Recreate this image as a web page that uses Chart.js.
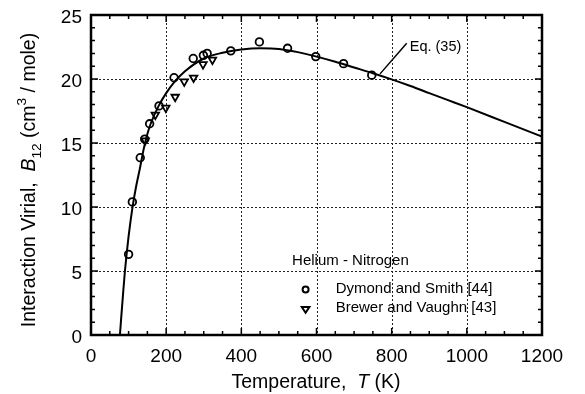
<!DOCTYPE html>
<html>
<head>
<meta charset="utf-8">
<script src="https://cdn.jsdelivr.net/npm/chart.js@4/dist/chart.umd.min.js"></script>
<style>
  html, body { margin: 0; padding: 0; background: #fff; }
  #wrap { width: 585px; height: 394px; }
</style>
</head>
<body>
<div id="wrap"><canvas id="virialChart" width="585" height="394"></canvas></div>
<script>
// Eq. (35) curve
const curveT = [77, 80, 85, 90, 100, 110, 120, 130, 140, 150, 160, 180, 200, 220, 250, 300, 350, 400, 450, 500, 550, 600, 650, 700, 750, 800, 850, 900, 950, 1000, 1100, 1200];
const curveB = [0, 1.2, 3.1, 4.9, 7.7, 9.9, 11.6, 13.0, 14.5, 15.7, 16.6, 17.9, 18.9, 19.7, 20.6, 21.6, 22.05, 22.3, 22.4, 22.35, 22.1, 21.75, 21.35, 20.9, 20.45, 19.97, 19.45, 18.9, 18.35, 17.8, 16.65, 15.5];

// Dymond and Smith [44]
const dymondT = [100, 110, 131, 143, 156, 181, 221, 272, 299, 309, 372, 448, 523, 598, 672, 747];
const dymondB = [6.3, 10.4, 13.85, 15.3, 16.5, 17.9, 20.1, 21.6, 21.85, 22.0, 22.2, 22.9, 22.4, 21.75, 21.2, 20.3];

// Brewer and Vaughn [43]
const brewerT = [144, 171, 199, 224, 248, 273, 298, 323];
const brewerB = [15.2, 17.2, 17.75, 18.6, 19.8, 20.1, 21.15, 21.5];

const xTicks = [0, 200, 400, 600, 800, 1000, 1200];
const yTicks = [0, 5, 10, 15, 20, 25];

const FONT = "'Liberation Sans', Arial, Helvetica, sans-serif";

function toPoints(xs, ys) {
  return xs.map((x, i) => ({ x: x, y: ys[i] }));
}

function drawCircle(ctx, x, y, r) {
  ctx.beginPath();
  ctx.arc(x, y, r, 0, Math.PI * 2);
  ctx.fillStyle = "#fff";
  ctx.fill();
  ctx.stroke();
}

function drawDownTriangle(ctx, x, y, r) {
  ctx.beginPath();
  ctx.moveTo(x - r, y - r * 0.6);
  ctx.lineTo(x + r, y - r * 0.6);
  ctx.lineTo(x, y + r * 0.9);
  ctx.closePath();
  ctx.fillStyle = "#fff";
  ctx.fill();
  ctx.stroke();
}

// draw a row of text segments (normal / italic / sub / sup), starting at x
function drawRich(ctx, parts, x, y, size) {
  let cx = x;
  parts.forEach((p) => {
    const fs = p.sub || p.sup ? size * 0.7 : size;
    ctx.font = (p.italic ? "italic " : "") + fs + "px " + FONT;
    const dy = p.sub ? size * 0.3 : p.sup ? -size * 0.45 : 0;
    ctx.fillText(p.text, cx, y + dy);
    cx += ctx.measureText(p.text).width;
  });
  return cx - x;
}

function richWidth(ctx, parts, size) {
  let w = 0;
  parts.forEach((p) => {
    const fs = p.sub || p.sup ? size * 0.7 : size;
    ctx.font = (p.italic ? "italic " : "") + fs + "px " + FONT;
    w += ctx.measureText(p.text).width;
  });
  return w;
}

const frameGrid = {
  id: "frameGrid",
  beforeDatasetsDraw(chart) {
    const { ctx, chartArea: a, scales: { x, y } } = chart;
    ctx.save();
    ctx.strokeStyle = "#222";
    ctx.lineWidth = 1;
    ctx.setLineDash([2, 2]);
    xTicks.slice(1, -1).forEach((v) => {
      const px = Math.round(x.getPixelForValue(v)) + 0.5;
      ctx.beginPath();
      ctx.moveTo(px, a.top);
      ctx.lineTo(px, a.bottom);
      ctx.stroke();
    });
    yTicks.slice(1, -1).forEach((v) => {
      const py = Math.round(y.getPixelForValue(v)) + 0.5;
      ctx.beginPath();
      ctx.moveTo(a.left, py);
      ctx.lineTo(a.right, py);
      ctx.stroke();
    });
    ctx.restore();
  },
  afterDatasetsDraw(chart) {
    const { ctx, chartArea: a, scales: { x, y } } = chart;
    ctx.save();
    ctx.strokeStyle = "#000";
    // inward ticks on all four sides
    ctx.lineWidth = 1.5;
    for (let v = 0; v <= 1200; v += 50) {
      const px = x.getPixelForValue(v);
      const len = v % 200 === 0 ? 7 : 4;
      ctx.beginPath();
      ctx.moveTo(px, a.bottom);
      ctx.lineTo(px, a.bottom - len);
      ctx.moveTo(px, a.top);
      ctx.lineTo(px, a.top + len);
      ctx.stroke();
    }
    for (let v = 0; v <= 25; v += 1) {
      const py = y.getPixelForValue(v);
      const len = v % 5 === 0 ? 7 : 4;
      ctx.beginPath();
      ctx.moveTo(a.left, py);
      ctx.lineTo(a.left + len, py);
      ctx.moveTo(a.right, py);
      ctx.lineTo(a.right - len, py);
      ctx.stroke();
    }
    ctx.lineWidth = 2.5;
    ctx.strokeRect(a.left, a.top, a.right - a.left, a.bottom - a.top);

    // Eq. (35) label with leader line
    ctx.lineWidth = 1.5;
    ctx.beginPath();
    ctx.moveTo(x.getPixelForValue(840), y.getPixelForValue(22.8));
    ctx.lineTo(x.getPixelForValue(769), y.getPixelForValue(20.4));
    ctx.stroke();
    ctx.fillStyle = "#000";
    ctx.font = "14.5px " + FONT;
    ctx.textBaseline = "middle";
    ctx.textAlign = "left";
    ctx.fillText("Eq. (35)", x.getPixelForValue(848), y.getPixelForValue(22.5));

    // legend
    ctx.font = "15px " + FONT;
    ctx.fillText("Helium - Nitrogen", x.getPixelForValue(535), y.getPixelForValue(5.8));
    ctx.fillText("Dymond and Smith [44]", x.getPixelForValue(651), y.getPixelForValue(3.6));
    ctx.fillText("Brewer and Vaughn [43]", x.getPixelForValue(651), y.getPixelForValue(2.1));
    ctx.lineWidth = 2;
    drawCircle(ctx, x.getPixelForValue(571), y.getPixelForValue(3.55), 3);
    drawDownTriangle(ctx, x.getPixelForValue(571), y.getPixelForValue(2.0), 3.8);

    // axis titles
    ctx.fillStyle = "#000";
    ctx.textBaseline = "alphabetic";
    const xt = [
      { text: "Temperature,  " },
      { text: "T", italic: true },
      { text: " (K)" },
    ];
    const xw = richWidth(ctx, xt, 19.5);
    drawRich(ctx, xt, 316 - xw / 2, 388, 19.5);

    const yt = [
      { text: "Interaction Virial,  " },
      { text: "B", italic: true },
      { text: "12", sub: true },
      { text: " (cm" },
      { text: "3", sup: true },
      { text: " / mole)" },
    ];
    const yw = richWidth(ctx, yt, 19.5);
    ctx.translate(35, 180);
    ctx.rotate(-Math.PI / 2);
    drawRich(ctx, yt, -yw / 2, 0, 19.5);
    ctx.restore();
  },
};

const ctx = document.getElementById("virialChart").getContext("2d");
new Chart(ctx, {
  type: "scatter",
  data: {
    datasets: [
      {
        label: "Eq. (35)",
        data: toPoints(curveT, curveB),
        showLine: true,
        borderColor: "#000",
        borderWidth: 2,
        pointRadius: 0,
        cubicInterpolationMode: "monotone",
      },
      {
        label: "Dymond and Smith [44]",
        data: toPoints(dymondT, dymondB),
        pointStyle: "circle",
        pointRadius: 3.8,
        borderColor: "#000",
        backgroundColor: "rgba(255,255,255,0)",
        borderWidth: 1.8,
      },
      {
        label: "Brewer and Vaughn [43]",
        data: toPoints(brewerT, brewerB),
        pointStyle: "triangle",
        rotation: 180,
        pointRadius: 4.3,
        borderColor: "#000",
        backgroundColor: "rgba(255,255,255,0)",
        borderWidth: 1.8,
      },
    ],
  },
  options: {
    responsive: false,
    animation: false,
    layout: { padding: { top: 15, right: 43, left: 0, bottom: 0 } },
    plugins: {
      legend: { display: false },
      tooltip: { enabled: false },
    },
    scales: {
      x: {
        type: "linear",
        min: 0,
        max: 1200,
        afterFit: (s) => {
          s.height = 59;
          s.paddingLeft = 0;
          s.paddingRight = 0;
        },
        afterBuildTicks: (s) => { s.ticks = xTicks.map((v) => ({ value: v })); },
        ticks: {
          color: "#000",
          padding: 10,
          font: { family: FONT, size: 19 },
          callback: (v) => String(v),
        },
        grid: { display: false, drawTicks: false },
        border: { display: false },
      },
      y: {
        type: "linear",
        min: 0,
        max: 25,
        afterFit: (s) => {
          s.width = 91;
          s.paddingTop = 0;
          s.paddingBottom = 0;
        },
        afterBuildTicks: (s) => { s.ticks = yTicks.map((v) => ({ value: v })); },
        ticks: {
          color: "#000",
          padding: 9,
          labelOffset: 3,
          font: { family: FONT, size: 19 },
          callback: (v) => String(v),
        },
        grid: { display: false, drawTicks: false },
        border: { display: false },
      },
    },
  },
  plugins: [frameGrid],
});
</script>
</body>
</html>
